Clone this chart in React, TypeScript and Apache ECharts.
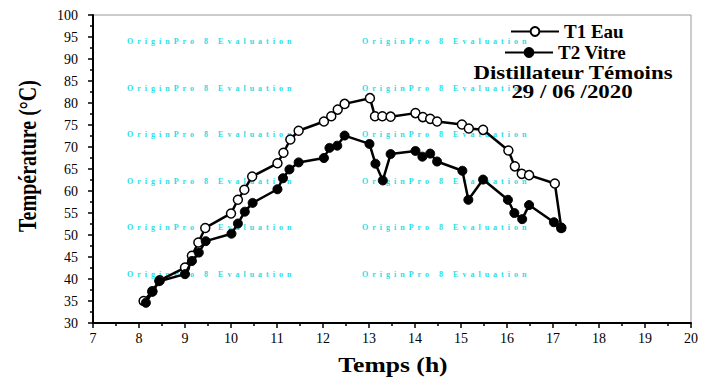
import React, { useEffect, useRef } from "react";
import * as echarts from "echarts";

// T1 Eau (open circles)
const hoursT1 = [8.10, 8.29, 8.45, 9.00, 9.15, 9.29, 9.44, 10.00, 10.15, 10.29, 10.46, 11.01, 11.14, 11.29, 11.47, 12.02, 12.18, 12.32, 12.47, 13.02, 13.13, 13.29, 13.47, 14.01, 14.17, 14.33, 14.48, 15.02, 15.17, 15.48, 16.03, 16.17, 16.32, 16.48, 17.04, 17.18];
const tempT1 = [35.0, 37.2, 39.7, 42.6, 45.3, 48.3, 51.6, 54.9, 58.0, 60.3, 63.3, 66.3, 68.7, 71.7, 73.7, 75.8, 77.0, 78.5, 79.8, 81.1, 77.0, 77.0, 76.9, 77.7, 76.8, 76.4, 75.8, 75.1, 74.2, 73.9, 69.2, 65.6, 63.9, 63.6, 61.7, 51.6];

// T2 Vitre (filled circles)
const hoursT2 = [8.15, 8.29, 8.44, 9.00, 9.15, 9.30, 9.45, 10.01, 10.15, 10.30, 10.47, 11.01, 11.13, 11.27, 11.47, 12.02, 12.14, 12.31, 12.47, 13.01, 13.14, 13.30, 13.47, 14.01, 14.16, 14.33, 14.48, 15.03, 15.16, 15.48, 16.02, 16.16, 16.33, 16.48, 17.02, 17.18];
const tempT2 = [34.6, 37.1, 39.5, 41.1, 44.1, 46.0, 48.6, 50.3, 52.6, 55.3, 57.3, 60.4, 62.9, 64.9, 66.5, 67.5, 69.8, 70.3, 72.6, 70.7, 66.2, 62.4, 68.4, 69.1, 67.8, 68.5, 66.7, 64.6, 58.0, 62.6, 58.0, 55.0, 53.6, 56.8, 52.9, 51.7];

const seriesNames = ["T1 Eau", "T2 Vitre"];
const legendNotes = ["Distillateur Témoins", "29 / 06 /2020"];
const xTitle = "Temps (h)";
const yTitle = "Température (°C)";
const watermark = "OriginPro 8 Evaluation";
const watermarkRows = [41, 88, 134, 181, 227, 274];
const watermarkCols = [127, 362];

const SERIF = "Liberation Serif";

export default function App() {
  const ref = useRef<HTMLDivElement>(null);
  useEffect(() => {
    if (!ref.current) return;
    const chart = echarts.init(ref.current, null, { renderer: "svg" });
    const d1 = hoursT1.map((h, i) => [h, tempT1[i]]);
    const d2 = hoursT2.map((h, i) => [h, tempT2[i]]);
    const wmText = watermark.split("").join("\u2002");
    const wm: any[] = [];
    watermarkRows.forEach((y) =>
      watermarkCols.forEach((x) =>
        wm.push({
          type: "text",
          x,
          y,
          z: 1,
          style: {
            text: wmText,
            fill: "#1fe0e6",
            fontFamily: SERIF,
            fontSize: 8,
            fontWeight: "bold",
            textVerticalAlign: "middle",
          },
        })
      )
    );
    const axisCommon = {
      type: "value" as const,
      axisLine: { show: true, onZero: false, lineStyle: { color: "#000", width: 2 } },
      axisTick: { show: true, inside: false, length: 5, lineStyle: { color: "#000", width: 1.5 } },
      minorTick: { show: true, splitNumber: 2, length: 3, lineStyle: { color: "#000", width: 1.5 } },
      splitLine: { show: false },
      minorSplitLine: { show: false },
    };
    const boldText = (text: string, size: number) => ({
      text,
      fill: "#000",
      fontFamily: SERIF,
      fontWeight: "bold",
      fontSize: size,
      textAlign: "center",
      textVerticalAlign: "middle",
    });
    const legendText = { color: "#000", fontFamily: SERIF, fontWeight: "bold", fontSize: 19 };
    chart.setOption({
      animation: false,
      backgroundColor: "#fff",
      grid: {
        left: 93,
        right: 10,
        top: 15,
        bottom: 56,
        show: true,
        borderColor: "#999",
        borderWidth: 1,
        backgroundColor: "transparent",
      },
      xAxis: {
        ...axisCommon,
        min: 7,
        max: 20,
        interval: 1,
        axisLabel: { color: "#000", fontFamily: SERIF, fontSize: 14, margin: 8 },
      },
      yAxis: {
        ...axisCommon,
        min: 30,
        max: 100,
        interval: 5,
        axisLabel: { color: "#000", fontFamily: SERIF, fontSize: 14, margin: 15 },
      },
      legend: [
        {
          data: [seriesNames[0]],
          left: 510,
          top: 22,
          padding: 0,
          itemWidth: 48,
          itemHeight: 11,
          itemGap: 0,
          textStyle: legendText,
        },
        {
          data: [seriesNames[1]],
          left: 504,
          top: 43,
          padding: 0,
          itemWidth: 48,
          itemHeight: 11,
          itemGap: 0,
          textStyle: legendText,
        },
      ],
      graphic: [
        ...wm,
        { type: "text", x: 573, y: 73, scaleX: 1.27, z: 10, style: boldText(legendNotes[0], 18) },
        { type: "text", x: 572, y: 92, scaleX: 1.27, z: 10, style: boldText(legendNotes[1], 18) },
        { type: "text", x: 393, y: 365, scaleX: 1.28, style: boldText(xTitle, 20) },
        { type: "text", x: 28, y: 156, rotation: Math.PI / 2, scaleY: 1.25, style: boldText(yTitle, 20) },
      ],
      series: [
        {
          name: seriesNames[0],
          type: "line",
          data: d1,
          symbol: "circle",
          symbolSize: 9,
          z: 3,
          lineStyle: { color: "#000", width: 2.5 },
          itemStyle: { color: "#fff", borderColor: "#000", borderWidth: 1.5 },
        },
        {
          name: seriesNames[1],
          type: "line",
          data: d2,
          symbol: "circle",
          symbolSize: 9,
          z: 4,
          lineStyle: { color: "#000", width: 2.5 },
          itemStyle: { color: "#000", borderColor: "#000", borderWidth: 1 },
        },
      ],
    });
    return () => chart.dispose();
  }, []);
  return <div ref={ref} style={{ width: 701, height: 379, position: "absolute", left: 0, top: 0 }} />;
}
